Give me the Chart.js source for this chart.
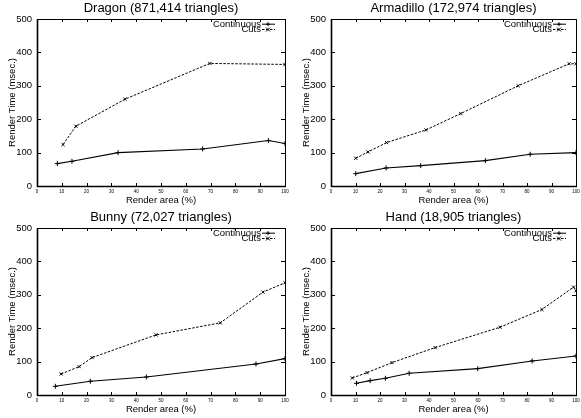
<!DOCTYPE html>
<html>
<head>
<meta charset="utf-8">
<script src="https://cdn.jsdelivr.net/npm/chart.js@4.4.1/dist/chart.umd.min.js"></script>
<style>
  body { margin: 0; background: #fff; width: 581px; height: 418px; position: relative; overflow: hidden; }
  canvas { position: absolute; }
</style>
</head>
<body>
<canvas id="dragon" width="290" height="209" style="left:0;top:0"></canvas>
<canvas id="armadillo" width="291" height="209" style="left:290px;top:0"></canvas>
<canvas id="bunny" width="290" height="209" style="left:0;top:209px"></canvas>
<canvas id="hand" width="291" height="209" style="left:290px;top:209px"></canvas>
<script>
// axis ticks shared by all panels
const xTicks = [0, 10, 20, 30, 40, 50, 60, 70, 80, 90, 100];
const yTicks = [0, 100, 200, 300, 400, 500];
const seriesNames = ["Continuous", "Cuts"];

// Dragon
const dragonContX = [8.2, 14.1, 32.7, 66.8, 93.3, 100];
const dragonContY = [67, 74, 100, 111, 136, 127];
const dragonCutsX = [10.5, 15.7, 35.5, 69.7, 100];
const dragonCutsY = [124, 179, 260, 367, 364];

// Armadillo
const armaContX = [10.1, 22.5, 36.6, 63.0, 81.3, 100];
const armaContY = [37, 54, 61, 76, 95, 100];
const armaCutsX = [10.1, 15.1, 22.7, 38.8, 53.0, 76.4, 97.2, 100];
const armaCutsY = [83, 102, 130, 168, 217, 300, 366, 366];

// Bunny
const bunnyContX = [7.4, 21.5, 44.1, 88.3, 100];
const bunnyContY = [26, 41, 54, 93, 109];
const bunnyCutsX = [9.7, 17.0, 22.2, 48.0, 73.9, 91.1, 100];
const bunnyCutsY = [63, 85, 112, 180, 216, 308, 336];

// Hand
const handContX = [10.4, 16.0, 22.2, 31.9, 59.9, 82.1, 100];
const handContY = [35, 43, 50, 65, 79, 102, 117];
const handCutsX = [8.7, 14.7, 24.9, 42.5, 69.0, 86.1, 99.0, 100];
const handCutsY = [51, 67, 97, 142, 203, 256, 323, 312];

const FONT = "'Liberation Sans', Arial, Helvetica, sans-serif";

function toPoints(xs, ys) {
  return xs.map((x, i) => ({ x: x, y: ys[i] }));
}

// gnuplot style frame with inward ticks on all four sides
const framePlugin = {
  id: "frame",
  afterDraw(chart) {
    const ctx = chart.ctx;
    const a = chart.chartArea;
    const xs = chart.scales.x, ys = chart.scales.y;
    const L = Math.round(a.left), R = Math.round(a.right);
    const T = Math.round(a.top), B = Math.round(a.bottom);
    ctx.save();
    ctx.strokeStyle = "#000";
    // top and right are thin
    ctx.lineWidth = 1;
    ctx.beginPath();
    ctx.moveTo(L, T + 0.5); ctx.lineTo(R + 0.5, T + 0.5); ctx.lineTo(R + 0.5, B);
    ctx.stroke();
    // left and bottom axes a bit heavier
    ctx.lineWidth = 1.6;
    ctx.beginPath();
    ctx.moveTo(L + 0.5, T); ctx.lineTo(L + 0.5, B + 0.5); ctx.lineTo(R + 1, B + 0.5);
    ctx.stroke();
    ctx.lineWidth = 1;
    ctx.beginPath();
    xTicks.forEach(v => {
      const px = Math.round(xs.getPixelForValue(v)) + 0.5;
      ctx.moveTo(px, B); ctx.lineTo(px, B - 3);
      ctx.moveTo(px, T); ctx.lineTo(px, T + 3);
    });
    yTicks.forEach(v => {
      const py = Math.round(ys.getPixelForValue(v)) + 0.5;
      ctx.moveTo(L, py); ctx.lineTo(L + 4, py);
      ctx.moveTo(R, py); ctx.lineTo(R - 4, py);
    });
    ctx.stroke();
    ctx.restore();
  }
};

// overlapping key in the top right, as in the original
const keyPlugin = {
  id: "key",
  afterDraw(chart) {
    const ctx = chart.ctx;
    const a = chart.chartArea;
    ctx.save();
    ctx.font = "9.5px " + FONT;
    ctx.textAlign = "right";
    ctx.textBaseline = "middle";
    ctx.fillStyle = "#000";
    chart.data.datasets.forEach((ds, i) => {
      const y = a.top + 5.2 + i * 5.3;
      ctx.fillText(ds.label, a.right - 24, y);
      ctx.strokeStyle = "#000";
      ctx.lineWidth = 1;
      ctx.setLineDash(ds.borderDash || []);
      ctx.beginPath();
      ctx.moveTo(a.right - 23, y);
      ctx.lineTo(a.right - 10, y);
      ctx.stroke();
      ctx.setLineDash([]);
      const mx = a.right - 17, r = 2;
      ctx.beginPath();
      if (ds.pointStyle === "cross") {
        ctx.moveTo(mx - r, y); ctx.lineTo(mx + r, y);
        ctx.moveTo(mx, y - r); ctx.lineTo(mx, y + r);
      } else {
        ctx.moveTo(mx - r, y - r); ctx.lineTo(mx + r, y + r);
        ctx.moveTo(mx - r, y + r); ctx.lineTo(mx + r, y - r);
      }
      ctx.stroke();
    });
    ctx.restore();
  }
};

function makePanel(id, title, contX, contY, cutsX, cutsY, leftW, rightPad, yTitlePad) {
  new Chart(document.getElementById(id), {
    type: "line",
    data: {
      datasets: [
        {
          label: seriesNames[0],
          data: toPoints(contX, contY),
          borderColor: "#000",
          borderWidth: 1.1,
          pointStyle: "cross",
          pointRadius: 2.5,
          pointBorderColor: "#000",
          pointBorderWidth: 1,
          tension: 0
        },
        {
          label: seriesNames[1],
          data: toPoints(cutsX, cutsY),
          borderColor: "#000",
          borderWidth: 1,
          borderDash: [2.5, 1.5],
          pointStyle: "crossRot",
          pointRadius: 2.2,
          pointBorderColor: "#000",
          pointBorderWidth: 1,
          tension: 0
        }
      ]
    },
    options: {
      responsive: false,
      animation: false,
      events: [],
      layout: { padding: { top: 0, right: rightPad, bottom: 0, left: 0 } },
      plugins: {
        legend: { display: false },
        tooltip: { enabled: false },
        title: {
          display: true,
          text: title,
          fullSize: false,
          color: "#000",
          font: { family: FONT, size: 13, weight: "normal", lineHeight: 1 },
          padding: { top: 1.5, bottom: 4.5 }
        }
      },
      scales: {
        x: {
          type: "linear",
          min: 0,
          max: 100,
          grid: { display: false, drawTicks: false },
          border: { display: false },
          afterBuildTicks: s => { s.ticks = xTicks.map(v => ({ value: v })); },
          afterFit: s => { s.height = 23; s.paddingLeft = 0; s.paddingRight = 0; },
          ticks: {
            color: "#000",
            padding: 3,
            maxRotation: 0,
            autoSkip: false,
            font: { family: FONT, size: 4.5 }
          },
          title: {
            display: true,
            text: "Render area (%)",
            color: "#000",
            font: { family: FONT, size: 9.5, lineHeight: 1.2 },
            padding: { top: 0, bottom: 3.3 }
          }
        },
        y: {
          type: "linear",
          min: 0,
          max: 500,
          grid: { display: false, drawTicks: false },
          border: { display: false },
          afterBuildTicks: s => { s.ticks = yTicks.map(v => ({ value: v })); },
          afterFit: s => { s.width = leftW; s.paddingTop = 0; s.paddingBottom = 0; },
          ticks: {
            color: "#000",
            padding: 5,
            font: { family: FONT, size: 9.5 }
          },
          title: {
            display: true,
            text: "Render Time (msec.)",
            color: "#000",
            font: { family: FONT, size: 9.5, lineHeight: 1.2 },
            padding: { top: yTitlePad, bottom: 0 }
          }
        }
      }
    },
    plugins: [framePlugin, keyPlugin]
  });
}

makePanel("dragon", "Dragon (871,414 triangles)", dragonContX, dragonContY, dragonCutsX, dragonCutsY, 37, 5, 7);
makePanel("armadillo", "Armadillo (172,974 triangles)", armaContX, armaContY, armaCutsX, armaCutsY, 41, 2.3, 11);
makePanel("bunny", "Bunny (72,027 triangles)", bunnyContX, bunnyContY, bunnyCutsX, bunnyCutsY, 37, 5, 7);
makePanel("hand", "Hand (18,905 triangles)", handContX, handContY, handCutsX, handCutsY, 41, 2.3, 11);
</script>
</body>
</html>
